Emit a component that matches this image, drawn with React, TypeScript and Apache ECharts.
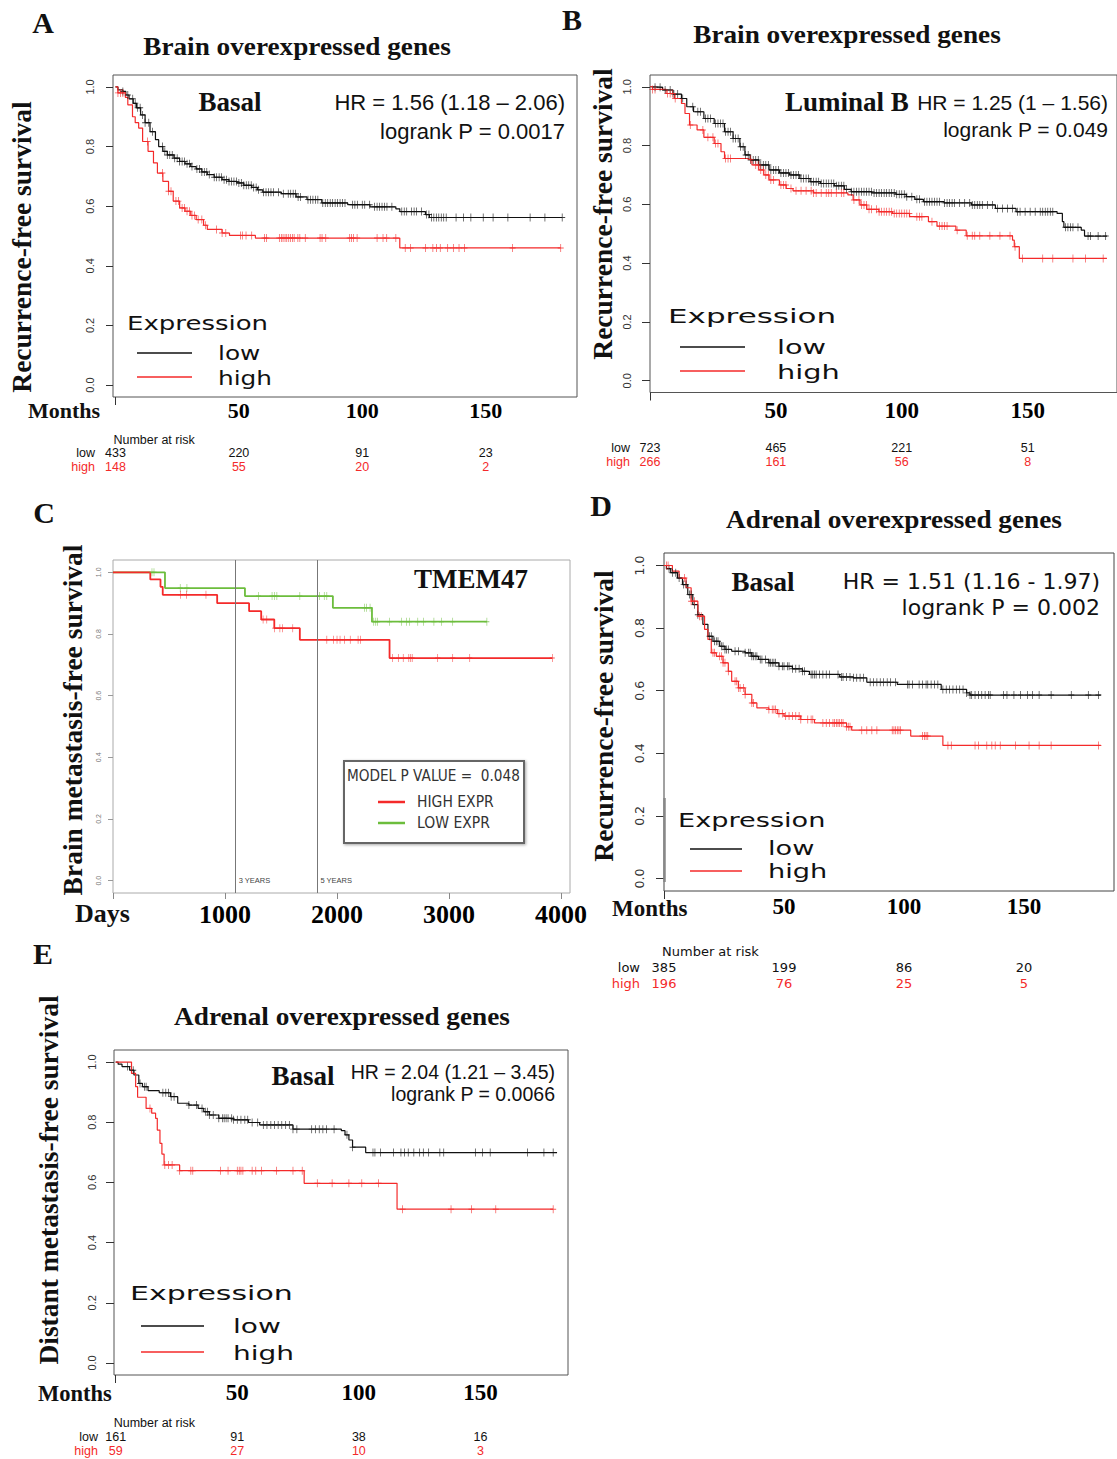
import React, { useEffect, useRef } from 'react';
import * as echarts from 'echarts';

// ---------------- DATA ----------------
const Y_TICKS = [0, 0.2, 0.4, 0.6, 0.8, 1.0];
const MONTH_LABELS = [50, 100, 150];
const DAY_TICKS = [0, 1000, 2000, 3000, 4000];
const DAY_LABELS = [1000, 2000, 3000, 4000];
const RISK_TIMES = [0, 50, 100, 150];
const YEAR_LINES = [1095, 1825];
const YEAR_TEXT = ['3 YEARS', '5 YEARS'];

// Panel A — Brain overexpressed genes, Basal
const A_LOW = [[0,1],[1,0.99],[3,0.985],[4.2,0.973],[5.5,0.96],[7.2,0.945],[8.5,0.93],[10.2,0.906],[12,0.88],[14,0.85],[16.2,0.823],[17.5,0.8],[19.2,0.784],[21,0.772],[23.7,0.761],[26,0.75],[28.2,0.742],[30.5,0.733],[32.7,0.725],[35,0.715],[37.2,0.706],[40,0.697],[43.2,0.689],[46,0.683],[49.2,0.678],[52,0.67],[55.2,0.663],[57.5,0.655],[59.7,0.647],[67.2,0.642],[73.2,0.631],[77.6,0.622],[83.6,0.611],[94.1,0.605],[103.1,0.598],[113.6,0.591],[115.2,0.582],[125.6,0.572],[127.2,0.562],[181,0.562]];
const A_HIGH = [[0,1],[1,0.98],[4,0.965],[5,0.94],[6.9,0.9],[8,0.88],[9.4,0.862],[11,0.817],[13.2,0.784],[15.4,0.745],[17,0.711],[19.2,0.683],[21.5,0.65],[23.4,0.617],[26,0.594],[28.2,0.583],[30.5,0.569],[32.7,0.555],[35.7,0.536],[37.2,0.522],[43.2,0.51],[46.2,0.502],[56.7,0.493],[115.2,0.46],[180.4,0.46]];
const A_LOW_CENSOR = [3,5,7,8,9,10,11,12,13.5,15,19,20,21,22,23,24,25,26,27,28,29,30,31,33,34,35,36,37,38,40,41,42,43,44,45,46,47,48,49,50,51,52,53,54,55,56,57,58,60,61,62,63,64,66,68,70,71,72,73,74,75,78,79,80,81,82,84,85,86,87,88,89,90,91,92,93,96,97,98,100,101,103,105,106,107,108,109,110,112,116,117,118,120,121,122,124,126,127,128,129,130,131,132,133,134,138,141,144,149,153,159,168,174,181];
const A_HIGH_CENSOR = [1,2,3,13,19,21.5,22.5,24.5,25.5,27,28,29,30,31,32,33.5,35,36.5,40.9,43.2,44.7,50.7,51.4,52.9,55.2,60.4,61.2,66.4,67.2,67.9,68.7,69.4,70.2,70.9,71.7,72.4,73.9,74.7,76.9,82.9,83.7,85.2,94.9,95.6,96.4,97.9,106,108.4,109.9,113.6,117.4,119.6,125.6,128.6,130.1,131.6,134.6,136.9,139.2,141.4,160.9,180.4];
const A_RISK_LOW = [433, 220, 91, 23];
const A_RISK_HIGH = [148, 55, 20, 2];

// Panel B — Brain overexpressed genes, Luminal B
const B_LOW = [[0,1],[2,0.998],[5,0.989],[9.1,0.975],[12.5,0.96],[14.6,0.932],[17.3,0.915],[21.4,0.892],[25.5,0.875],[29.6,0.847],[33,0.824],[35.7,0.796],[37.7,0.768],[39.8,0.751],[43.2,0.734],[47.3,0.717],[51.4,0.707],[55.4,0.7],[59.5,0.688],[63.6,0.677],[67.7,0.671],[73.2,0.663],[77.2,0.651],[79.9,0.643],[88.1,0.639],[97.7,0.634],[101.8,0.626],[105.2,0.617],[108.6,0.609],[116.8,0.605],[127.7,0.598],[137.2,0.586],[145.4,0.575],[161.7,0.569],[163.8,0.541],[164.4,0.522],[171.3,0.512],[172.6,0.492],[181.5,0.492]];
const B_HIGH = [[0,1],[1,0.991],[6.4,0.977],[9.8,0.96],[12.5,0.943],[13.9,0.909],[15.7,0.87],[18.7,0.853],[21.4,0.828],[25.5,0.807],[28.2,0.779],[29.6,0.756],[39.1,0.753],[40.5,0.734],[43.2,0.717],[45.2,0.7],[47.3,0.683],[51.4,0.666],[54.1,0.654],[56.8,0.646],[65,0.639],[78.6,0.632],[80.7,0.615],[83.4,0.598],[86.1,0.583],[90.9,0.575],[96.3,0.569],[103.1,0.558],[110.6,0.541],[114,0.526],[121.5,0.512],[125.6,0.493],[144,0.478],[144.7,0.456],[146.7,0.416],[181.5,0.416]];
const B_LOW_CENSOR = [2,4,6,8,9.5,11,13,17,19,20,22,23,24,26,27,28,29,30,31,32,33,34,35,36,37,38,39,40,41,42,43,44,45,46,47,48,49,50,51,52,53,54,55,56,57,58,59,60,61,62,63,64,65,66,67,68,69,70,71,72,73,74,75,76,77,78,80,81,82,83,84,85,86,87,88,89,90,91,92,93,94,95,96,97,98,99,100,101,102,104,106,107,109,110,111,112,113,114,115,117,118,119,120,121,123,125,127,128,129,130,131,132,134,136,138,140,142,144,146,147,149,151,153,155,156,157,158,159,160,165,166,167,168,170,174,175,178,181];
const B_HIGH_CENSOR = [1,2,7,8,9,10,16,21,23,25,26,27,30,31,32,40,42,43,44,45,46,47,48,49,52,53,54,56,58,60,62,64,65,66,68,70,71,72,74,76,77,81,83,84,85,86,87,88,90,91,92,93,94,95,96,97,98,99,100,101,102,103,106,107,108,112,115,116,117,118,122,126,128,129,131,135,139,143,145,148,156,160,168,173,180];
const B_RISK_LOW = [723, 465, 221, 51];
const B_RISK_HIGH = [266, 161, 56, 8];

// Panel C — TMEM47 (days)
const C_LOW = [[0,1],[464,0.949],[1178,0.923],[1963,0.885],[2312,0.84],[3338,0.84]];
const C_HIGH = [[0,1],[333,0.977],[424,0.953],[444,0.927],[930,0.9],[1215,0.874],[1323,0.847],[1440,0.819],[1668,0.781],[2469,0.722],[3922,0.722]];
const C_LOW_CENSOR = [348,366,600,660,1299,1420,1440,1463,1668,1842,1886,1909,2245,2262,2295,2328,2346,2362,2469,2574,2621,2648,2721,2772,2865,2932,3033,3338];
const C_HIGH_CENSOR = [602,658,830,1340,1373,1443,1490,1514,1605,1909,1970,2000,2027,2067,2118,2188,2211,2497,2547,2591,2641,2658,2671,2899,3033,3185,3922];

// Panel D — Adrenal overexpressed genes, Basal (RFS)
const D_LOW = [[0,1],[1,0.99],[2.8,0.977],[5.6,0.96],[7.7,0.939],[9.9,0.907],[12,0.875],[14.1,0.843],[16.2,0.812],[18.3,0.774],[20.4,0.758],[23.2,0.742],[25.4,0.732],[28.2,0.726],[33.8,0.721],[36.6,0.71],[39.4,0.7],[43.7,0.689],[47.9,0.678],[53.5,0.67],[57.7,0.662],[60.6,0.652],[73.2,0.644],[78.9,0.641],[84.5,0.627],[97.2,0.62],[115.5,0.604],[126.1,0.593],[127.5,0.586],[182,0.586]];
const D_HIGH = [[0,1],[3.5,0.982],[6.3,0.96],[9.2,0.929],[11.3,0.886],[14.1,0.838],[16.9,0.796],[18.3,0.764],[19.7,0.721],[21.8,0.71],[24.6,0.689],[26.8,0.662],[28.2,0.63],[31,0.609],[33.8,0.588],[36.6,0.561],[38.7,0.545],[43.7,0.54],[47.2,0.527],[50,0.519],[57,0.508],[62.7,0.497],[76.1,0.485],[78.2,0.474],[102.8,0.455],[116.2,0.425],[182,0.425]];
const D_LOW_CENSOR = [2.1,3.5,4.9,6.3,8.2,9.2,10.6,11.3,12.7,14.1,19,19.7,21.1,21.8,22.5,23.9,24.6,25.4,26.1,26.8,29.6,31,33.8,35.2,35.9,36.6,37.3,38,38.7,40.1,40.8,42.3,43.7,44.4,45.1,45.8,46.5,47.9,49.3,50,51.4,52.1,53.5,54.9,56.3,57.7,58.5,61.3,62,62.7,63.4,64.8,66.2,67.6,69,72.5,73.9,74.6,76.1,77.5,78.9,80.3,81.7,83.1,85.9,87.3,88.7,90.1,91.5,93,94.4,96.5,101.4,102.1,103.5,106.3,107.7,109.2,109.9,111.3,112.7,114.1,116.2,117.6,119,120.4,121.8,123.2,124.6,126.1,127.5,128.2,129.6,131,132.4,133.8,135.2,135.9,141.5,142.9,145.8,148.6,151.4,153.5,156.3,161.3,169.7,176.8,181];
const D_HIGH_CENSOR = [1.1,1.7,8.5,11.3,12.7,14.8,15.5,20.4,21.1,23.2,23.9,24.6,25.4,26.8,29.6,30.3,31,31.7,33.1,33.8,36.6,37.3,43.7,45.1,45.8,46.5,47.9,49.3,50.7,52.1,53.5,54.9,56.3,57,59.9,61.3,62,66.2,67.6,69,70.4,71.1,71.8,72.5,73.2,73.9,74.6,76.1,76.8,77.5,82.4,84.5,86.6,88.7,95.1,95.8,96.5,97.2,97.9,98.6,107.7,108.5,109.2,109.9,118.3,119.7,129.6,131,134.5,136.6,138,140.1,146.5,152.1,156.3,161.3,181];
const D_RISK_LOW = [385, 199, 86, 20];
const D_RISK_HIGH = [196, 76, 25, 5];

// Panel E — Adrenal overexpressed genes, Basal (DMFS)
const E_LOW = [[0,1],[1,0.993],[2.6,0.985],[5.7,0.973],[7.5,0.957],[9.5,0.929],[11,0.918],[13.3,0.905],[17.9,0.898],[22.5,0.885],[25.5,0.863],[30.1,0.857],[33.9,0.846],[36.2,0.835],[38.5,0.824],[42.4,0.813],[48.5,0.808],[54.6,0.799],[59.2,0.791],[72.9,0.777],[92.8,0.772],[94.3,0.758],[95.9,0.741],[97.4,0.717],[102.8,0.699],[181.5,0.699]];
const E_HIGH = [[0,1],[6.5,0.962],[8.2,0.918],[9,0.883],[12.5,0.846],[14.8,0.83],[16.4,0.813],[17.1,0.774],[18.2,0.73],[19,0.694],[19.9,0.658],[26.3,0.639],[77.5,0.597],[115.7,0.511],[179.9,0.511]];
const E_LOW_CENSOR = [4.9,7.2,10,11.8,12.5,19.4,20.6,21.7,22.8,24,30.1,33.2,35.5,37,37.8,38.5,40.1,42.4,43.9,44.6,45.4,46.2,47.7,48.5,50,51.5,53.1,54.3,56.1,58.4,60.7,62.2,63.8,65.3,66.8,68.3,69.9,71.4,72.9,74.5,80.6,82.1,83.7,85.2,86.7,89.8,95.1,97.4,105.8,106.6,108.9,114.2,117.3,118.8,120.3,122.6,125,126.5,128.7,133.3,134.9,147.9,150.9,154,169.3,176.1,179.9];
const E_HIGH_CENSOR = [14.1,20.2,21.7,23.2,26.3,30.9,31.7,43.1,46.2,50,50.8,51.5,52.3,56.1,57.6,59.9,66.1,72.9,76.7,82.9,89,95.9,101.2,108.1,118,137.9,146.3,156.3,179.9];
const E_RISK_LOW = [161, 91, 38, 16];
const E_RISK_HIGH = [59, 27, 10, 3];

// ---------------- STYLE ----------------
const SERIF = '"Liberation Serif", "Times New Roman", serif';
const SANS = '"Liberation Sans", Arial, sans-serif';
const DEJAVU = '"DejaVu Sans", Verdana, sans-serif';
const RED = '#f42a2a';
const BLACK = '#111';
const GREEN = '#6cbd3c';
const CROSS = 'path://M4.4,0H5.6V10H4.4ZM0,4.4H10V5.6H0Z';

const GRIDS = [
  { left: 113, top: 75, width: 464, height: 322, border: '#555', xr: [-1, 187] },
  { left: 650, top: 75, width: 467, height: 317.5, border: '#555', xr: [0, 185.5] },
  { left: 113, top: 560, width: 457, height: 333, border: '#aaa', xr: [0, 4080] },
  { left: 664, top: 553, width: 450, height: 338, border: '#444', xr: [0, 187.5] },
  { left: 114, top: 1050, width: 454, height: 325, border: '#555', xr: [-0.7, 186] },
];
const X_LABEL = [
  { size: 22, margin: 2 },
  { size: 23, margin: 6 },
  { size: 26, margin: 8 },
  { size: 23, margin: 4 },
  { size: 23, margin: 6 },
];
const Y_LABEL = [
  { size: 11, margin: 18, family: SANS, color: '#333', tick: 7 },
  { size: 11, margin: 18, family: SANS, color: '#333', tick: 8 },
  { size: 7, margin: 11, family: SANS, color: '#777', tick: 5 },
  { size: 12.5, margin: 18, family: DEJAVU, color: '#333', tick: 8 },
  { size: 11, margin: 17, family: SANS, color: '#333', tick: 8 },
];

function stepAt(steps: number[][], t: number) {
  let s = steps[0][1];
  for (const [x, y] of steps) {
    if (x <= t) s = y;
    else break;
  }
  return s;
}

function km(idx: number, steps: number[][], censors: number[], color: string, width: number, size: number[], extra: any = {}) {
  return [
    {
      type: 'line', xAxisIndex: idx, yAxisIndex: idx, data: steps, step: 'end',
      symbol: 'none', showSymbol: false, silent: true, z: 3,
      lineStyle: { color, width }, ...extra,
    },
    {
      type: 'scatter', xAxisIndex: idx, yAxisIndex: idx,
      data: censors.map((t) => [t, stepAt(steps, t)]),
      symbol: CROSS, symbolSize: size, silent: true, z: 4,
      itemStyle: { color },
    },
  ];
}

function T(x: number, y: number, text: string, o: any = {}) {
  const align = o.align || 'left';
  const valign = o.valign || 'middle';
  return {
    type: 'text', x, y, rotation: o.rot || 0, scaleX: o.sx || 1, scaleY: o.sy || 1, silent: true, z: 100,
    style: {
      text, fontSize: o.size || 14, fontFamily: o.family || SANS, fontWeight: o.weight || 'normal',
      fill: o.color || '#111', align, verticalAlign: valign, textAlign: align, textVerticalAlign: valign,
    },
  };
}
function L(x1: number, y1: number, x2: number, y2: number, stroke: string, lw: number) {
  return { type: 'line', silent: true, z: 100, shape: { x1, y1, x2, y2 }, style: { stroke, lineWidth: lw } };
}

function buildOption() {
  const series: any[] = [
    ...km(0, A_LOW, A_LOW_CENSOR, BLACK, 1.2, [6, 8]),
    ...km(0, A_HIGH, A_HIGH_CENSOR, RED, 1.2, [6, 8]),
    ...km(1, B_LOW, B_LOW_CENSOR, BLACK, 1.2, [6, 8]),
    ...km(1, B_HIGH, B_HIGH_CENSOR, RED, 1.2, [6, 8]),
    ...km(2, C_LOW, C_LOW_CENSOR, GREEN, 1.8, [5, 8]),
    ...km(2, C_HIGH, C_HIGH_CENSOR, RED, 1.8, [5, 8], {
      markLine: {
        silent: true, symbol: 'none', label: { show: false },
        lineStyle: { color: '#777', width: 1, type: 'solid' },
        data: YEAR_LINES.map((d) => ({ xAxis: d })),
      },
    }),
    ...km(3, D_LOW, D_LOW_CENSOR, BLACK, 1.2, [6, 8]),
    ...km(3, D_HIGH, D_HIGH_CENSOR, RED, 1.2, [6, 8]),
    ...km(4, E_LOW, E_LOW_CENSOR, BLACK, 1.2, [6, 8]),
    ...km(4, E_HIGH, E_HIGH_CENSOR, RED, 1.2, [6, 8]),
  ];
  return {
    animation: false,
    backgroundColor: '#fff',
    grid: GRIDS.map((g) => ({
      left: g.left, top: g.top, width: g.width, height: g.height, show: true,
      borderColor: g.border, borderWidth: 1, backgroundColor: 'transparent',
      containLabel: false, outerBoundsMode: 'none',
    })),
    xAxis: GRIDS.map((g, i) => ({
      gridIndex: i, type: 'value', min: g.xr[0], max: g.xr[1], position: 'bottom',
      axisLine: { show: false, onZero: false }, splitLine: { show: false },
      axisTick: {
        show: true, customValues: i === 2 ? DAY_TICKS : [0], length: i === 2 ? 6 : 8,
        lineStyle: { color: i === 2 ? '#888' : '#333', width: 1 },
      },
      axisLabel: {
        customValues: i === 2 ? DAY_LABELS : MONTH_LABELS,
        fontFamily: SERIF, fontWeight: 'bold', fontSize: X_LABEL[i].size, color: '#000',
        margin: X_LABEL[i].margin, formatter: (v: number) => String(v),
      },
    })),
    yAxis: GRIDS.map((g, i) => ({
      gridIndex: i, type: 'value', min: -0.04, max: 1.04, position: 'left',
      axisLine: { show: false, onZero: false }, splitLine: { show: false },
      axisTick: {
        show: true, customValues: Y_TICKS, length: Y_LABEL[i].tick,
        lineStyle: { color: i === 2 ? '#999' : '#333', width: 1 },
      },
      axisLabel: {
        customValues: Y_TICKS, rotate: 90, formatter: (v: number) => v.toFixed(1),
        fontSize: Y_LABEL[i].size, fontFamily: Y_LABEL[i].family, color: Y_LABEL[i].color,
        margin: Y_LABEL[i].margin,
      },
    })),
    series,
  };
}

function buildGraphics(px: (g: number, x: number, y: number) => number[]) {
  const g: any[] = [];
  const bs = { family: SERIF, weight: 'bold' };
  // panel letters
  g.push(T(43, 22, 'A', { ...bs, size: 30, align: 'center' }));
  g.push(T(572, 19, 'B', { ...bs, size: 30, align: 'center' }));
  g.push(T(44, 512, 'C', { ...bs, size: 30, align: 'center' }));
  g.push(T(601, 505, 'D', { ...bs, size: 30, align: 'center' }));
  g.push(T(43, 953, 'E', { ...bs, size: 30, align: 'center' }));
  // titles
  g.push(T(297, 47, 'Brain overexpressed genes', { ...bs, size: 25, align: 'center', sx: 1.09 }));
  g.push(T(847, 35, 'Brain overexpressed genes', { ...bs, size: 25, align: 'center', sx: 1.09 }));
  g.push(T(894, 520, 'Adrenal overexpressed genes', { ...bs, size: 25, align: 'center', sx: 1.09 }));
  g.push(T(342, 1017, 'Adrenal overexpressed genes', { ...bs, size: 25, align: 'center', sx: 1.09 }));
  // y axis titles
  const rot = Math.PI / 2;
  g.push(T(21, 247, 'Recurrence-free survival', { ...bs, size: 27.5, align: 'center', rot }));
  g.push(T(602, 214, 'Recurrence-free survival', { ...bs, size: 27.5, align: 'center', rot }));
  g.push(T(72, 720, 'Brain metastasis-free survival', { ...bs, size: 27.5, align: 'center', rot }));
  g.push(T(603, 716, 'Recurrence-free survival', { ...bs, size: 27.5, align: 'center', rot }));
  g.push(T(48, 1180, 'Distant metastasis-free survival', { ...bs, size: 27.5, align: 'center', rot }));
  // x axis titles
  g.push(T(28, 410, 'Months', { ...bs, size: 22 }));
  g.push(T(612, 908, 'Months', { ...bs, size: 23 }));
  g.push(T(38, 1393, 'Months', { ...bs, size: 22.5 }));
  g.push(T(75, 913, 'Days', { ...bs, size: 26 }));
  // subtype labels
  g.push(T(230, 102, 'Basal', { ...bs, size: 27, align: 'center' }));
  g.push(T(785, 102, 'Luminal B', { ...bs, size: 27 }));
  g.push(T(763, 582, 'Basal', { ...bs, size: 27, align: 'center' }));
  g.push(T(303, 1076, 'Basal', { ...bs, size: 27, align: 'center' }));
  g.push(T(471, 579, 'TMEM47', { ...bs, size: 27, align: 'center' }));
  // HR texts
  g.push(T(565, 102, 'HR = 1.56 (1.18 \u2013 2.06)', { size: 22, align: 'right' }));
  g.push(T(565, 131, 'logrank P = 0.0017', { size: 22, align: 'right' }));
  g.push(T(1108, 102, 'HR = 1.25 (1 \u2013 1.56)', { size: 21, align: 'right' }));
  g.push(T(1108, 129, 'logrank P = 0.049', { size: 21, align: 'right' }));
  g.push(T(1100, 581, 'HR = 1.51 (1.16 - 1.97)', { size: 22, align: 'right', family: DEJAVU }));
  g.push(T(1100, 607, 'logrank P = 0.002', { size: 22, align: 'right', family: DEJAVU }));
  g.push(T(555, 1072, 'HR = 2.04 (1.21 \u2013 3.45)', { size: 19.5, align: 'right' }));
  g.push(T(555, 1094, 'logrank P = 0.0066', { size: 19.5, align: 'right' }));
  // Expression legends
  const legend = (ex: number, ey: number, lx1: number, lx2: number, ly1: number, ly2: number, tx: number, size: number, sxE: number, sxL: number) => {
    g.push(T(ex, ey, 'Expression', { family: DEJAVU, size, sx: sxE }));
    g.push(L(lx1, ly1, lx2, ly1, BLACK, 1.5));
    g.push(L(lx1, ly2, lx2, ly2, RED, 1.5));
    g.push(T(tx, ly1, 'low', { family: DEJAVU, size, sx: sxL }));
    g.push(T(tx, ly2 + 1, 'high', { family: DEJAVU, size, sx: sxL }));
  };
  legend(127, 323, 137, 192, 353, 377, 218, 20, 1.3, 1.24);
  legend(668, 316, 680, 745, 347, 371, 777, 20, 1.55, 1.44);
  legend(678, 821, 690, 742, 849, 871, 768, 19, 1.43, 1.43);
  legend(130, 1293, 141, 204, 1326, 1352, 233, 20, 1.5, 1.4);
  // Number at risk
  const risk = (p: number, lows: number[], highs: number[], yl: number, yh: number, labR: number, size: number, family: string, header: number | null) => {
    const x0 = px(p, 0, 0)[0];
    if (header !== null) g.push(T(x0 - 2, header, 'Number at risk', { size: size, family }));
    g.push(T(labR, yl, 'low', { size, family, align: 'right' }));
    g.push(T(labR, yh, 'high', { size, family, align: 'right', color: RED }));
    RISK_TIMES.forEach((t, k) => {
      const x = px(p, t, 0)[0];
      g.push(T(x, yl, String(lows[k]), { size, family, align: 'center' }));
      g.push(T(x, yh, String(highs[k]), { size, family, align: 'center', color: RED }));
    });
  };
  risk(0, A_RISK_LOW, A_RISK_HIGH, 453, 467, 95, 12.5, SANS, 440);
  risk(1, B_RISK_LOW, B_RISK_HIGH, 448, 462, 630, 12.5, SANS, null);
  risk(3, D_RISK_LOW, D_RISK_HIGH, 967, 983, 640, 13, DEJAVU, 951);
  risk(4, E_RISK_LOW, E_RISK_HIGH, 1437, 1451, 98, 12.5, SANS, 1423);
  // C: year labels
  YEAR_LINES.forEach((d, k) => {
    const p = px(2, d, 0);
    g.push(T(p[0] + 3, p[1], YEAR_TEXT[k], { size: 7.5, color: '#444' }));
  });
  // C legend box
  g.push({
    type: 'rect', z: 90, silent: true, shape: { x: 344, y: 761, width: 180, height: 82 },
    style: { fill: '#fff', stroke: '#666', lineWidth: 2, shadowBlur: 3, shadowOffsetX: 1, shadowOffsetY: 1, shadowColor: 'rgba(0,0,0,0.35)' },
  });
  g.push(T(347, 776, 'MODEL P VALUE =  0.048', { size: 15, family: DEJAVU, color: '#333', sx: 0.91 }));
  g.push(L(378, 802, 405, 802, RED, 2.5));
  g.push(L(378, 823, 405, 823, GREEN, 2.5));
  g.push(T(417, 802, 'HIGH EXPR', { size: 15, family: DEJAVU, color: '#333', sx: 0.93 }));
  g.push(T(417, 823, 'LOW EXPR', { size: 15, family: DEJAVU, color: '#333', sx: 0.93 }));
  // D: artifact bar on left border
  g.push(L(664.5, 798, 664.5, 882, '#888', 2.5));
  return g;
}

export default function App() {
  const ref = useRef<HTMLDivElement>(null);
  useEffect(() => {
    const chart = echarts.init(ref.current!, null, { renderer: 'svg' });
    chart.setOption(buildOption() as any);
    const px = (gi: number, x: number, y: number) => chart.convertToPixel({ gridIndex: gi } as any, [x, y]) as number[];
    chart.setOption({ graphic: buildGraphics(px) } as any);
    return () => chart.dispose();
  }, []);
  return (
    <div
      ref={ref}
      style={{ position: 'absolute', left: 0, top: 0, width: 1117, height: 1459, background: '#fff' }}
    />
  );
}
